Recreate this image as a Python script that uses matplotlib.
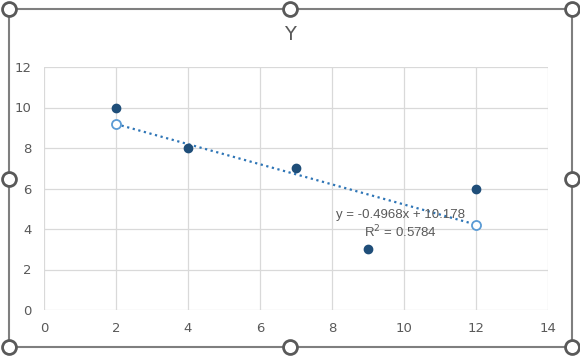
import numpy as np
import matplotlib.pyplot as plt
from matplotlib.patches import Rectangle
from matplotlib.lines import Line2D

W, H = 580, 356

x_vals = [2, 4, 7, 9, 12]
y_vals = [10, 8, 7, 3, 6]
x_ticks = [0, 2, 4, 6, 8, 10, 12, 14]
y_ticks = [0, 2, 4, 6, 8, 10, 12]

TEXT = "#595959"
GRID = "#d9d9d9"

fig = plt.figure(figsize=(W / 100, H / 100), dpi=100)
ax = fig.add_axes([44 / W, 1 - 310 / H, (548 - 44) / W, (310 - 67) / H])

# linear trend line (Excel style)
slope, intercept = np.polyfit(x_vals, y_vals, 1)
xs = np.array([min(x_vals), max(x_vals)])
ys = slope * xs + intercept
ss_res = np.sum((np.array(y_vals) - (slope * np.array(x_vals) + intercept)) ** 2)
ss_tot = np.sum((np.array(y_vals) - np.mean(y_vals)) ** 2)
r2 = 1 - ss_res / ss_tot

ax.plot(xs, ys, linestyle=(0, (1, 1.6)), color="#2e75b6", lw=1.6, zorder=2)
ax.plot(xs, ys, "o", ms=6.5, mfc="white", mec="#5b9bd5", mew=1.3, lw=0, zorder=3)
ax.scatter(x_vals, y_vals, s=36, color="#1f4e79", zorder=4)

narrow = ["Liberation Sans Narrow", "Liberation Sans", "DejaVu Sans"]
ax.text(9.9, 4.69, f"y = {slope:.4f}x + {intercept:.3f}", ha="center", va="center",
        fontsize=9.5, color=TEXT, family=narrow, zorder=5)
ax.text(9.9, 3.85, f"R$^2$ = {r2:.4f}", ha="center", va="center",
        fontsize=9.5, color=TEXT, family=narrow, zorder=5)

ax.set_xlim(0, 14)
ax.set_ylim(0, 12)
ax.set_xticks(x_ticks)
ax.set_yticks(y_ticks)
ax.grid(True, color=GRID, lw=0.9)
ax.set_axisbelow(True)
for s in ax.spines.values():
    s.set_visible(False)
ax.tick_params(length=0, labelsize=9.5, colors=TEXT, pad=9)
ax.tick_params(axis="y", pad=9)

fig.text(290 / W, 1 - 34 / H, "Y", ha="center", va="center", fontsize=14, color=TEXT)

# selection frame and handles
fig.add_artist(Rectangle((9 / W, 1 - 347 / H), (572 - 9) / W, (347 - 9) / H,
                         transform=fig.transFigure, fill=False, ec="#7f7f7f", lw=1.5))
hx = [9, 290, 572, 9, 572, 9, 290, 572]
hy = [9, 9, 9, 179, 179, 347, 347, 347]
fig.add_artist(Line2D([v / W for v in hx], [1 - v / H for v in hy], transform=fig.transFigure,
                      ls="none", marker="o", ms=10, mfc="white", mec="#595959", mew=2))

fig.savefig("out.png", dpi=100)
